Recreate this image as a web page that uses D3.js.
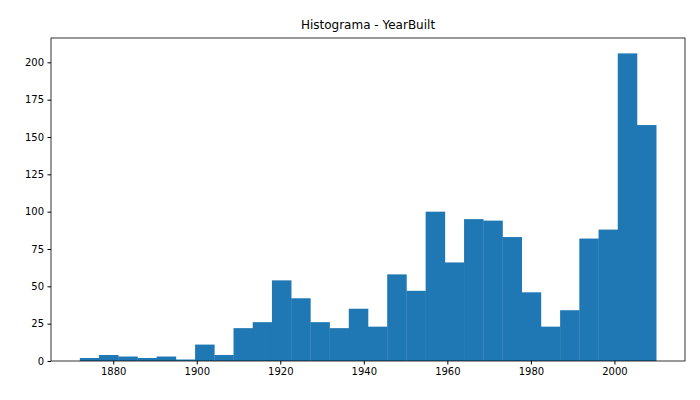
<!DOCTYPE html>
<html>
<head>
<meta charset="utf-8">
<script src="https://cdn.jsdelivr.net/npm/d3@7"></script>
<style>
body { margin:0; background:#fff; }
text { font-family: "DejaVu Sans", sans-serif; }
</style>
</head>
<body>
<div id="chart"></div>
<script>
// histogram data (30 bins, 1872-2010)
var binMin = 1872;
var binMax = 2010;
var counts = [2, 4, 3, 2, 3, 1, 11, 4, 22, 26, 54, 42, 26, 22, 35, 23, 58, 47, 100, 66, 95, 94, 83, 46, 23, 34, 82, 88, 206, 158];
var xTicks = [1880, 1900, 1920, 1940, 1960, 1980, 2000];
var yTicks = [0, 25, 50, 75, 100, 125, 150, 175, 200];

var W = 700, H = 400;
var margin = {top:38, right:15, bottom:39, left:51};
var width = W - margin.left - margin.right;
var height = H - margin.top - margin.bottom;

var svg = d3.select("#chart").append("svg")
	.attr("width", W).attr("height", H);
var g = svg.append("g")
	.attr("transform", "translate(" + margin.left + "," + margin.top + ")");

var span = binMax - binMin;
var step = span / counts.length;
var bins = counts.map(function(c, i) {
	return {x0: binMin + i * step, x1: binMin + (i + 1) * step, n: c};
});

var x = d3.scaleLinear()
	.domain([binMin - span * 0.05, binMax + span * 0.05])
	.range([0, width]);
var y = d3.scaleLinear()
	.domain([0, d3.max(counts) * 1.05])
	.range([height, 0]);

g.selectAll("rect")
	.data(bins)
	.enter().append("rect")
		.attr("x", function(d) { return x(d.x0); })
		.attr("y", function(d) { return y(d.n); })
		.attr("width", function(d) { return x(d.x1) - x(d.x0) + 0.3; })
		.attr("height", function(d) { return height - y(d.n); })
		.style("fill", "#1f77b4");

var xa = g.append("g")
	.attr("transform", "translate(0," + height + ")")
	.call(d3.axisBottom(x).tickValues(xTicks).tickFormat(d3.format("d")).tickSize(3.5).tickPadding(3.5));
var ya = g.append("g")
	.call(d3.axisLeft(y).tickValues(yTicks).tickSize(3.5).tickPadding(3.5));
[xa, ya].forEach(function(a) {
	a.selectAll("text").style("font-size", "10px").attr("fill", "#000");
	a.selectAll("line").attr("stroke", "#000");
	a.select(".domain").remove();
});

g.append("rect")
	.attr("width", width).attr("height", height)
	.attr("fill", "none").attr("stroke", "#000").attr("stroke-width", 0.8);

svg.append("text")
	.attr("x", margin.left + width / 2).attr("y", 29)
	.attr("text-anchor", "middle")
	.style("font-size", "12px")
	.text("Histograma - YearBuilt");
</script>
</body>
</html>
